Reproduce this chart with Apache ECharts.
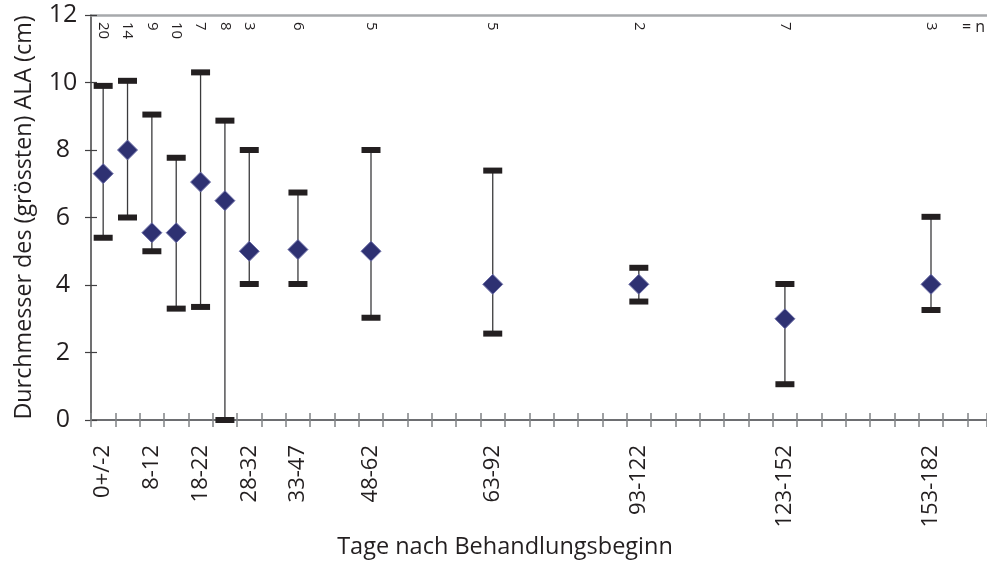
<!DOCTYPE html>
<html>
<head>
<meta charset="utf-8">
<script src="https://cdn.jsdelivr.net/npm/echarts@6/dist/echarts.min.js"></script>
<style>
html,body{margin:0;padding:0;background:#fff;}
#chart{width:987px;height:561px;}
</style>
</head>
<body>
<div id="chart"></div>
<script>
// Position of each group on the day axis (in 5-day tick units)
const xPos = [0.5, 1.5, 2.5, 3.5, 4.5, 5.5, 6.5, 8.5, 11.5, 16.5, 22.5, 28.5, 34.5];
const groupLabels = ["0+/-2", "", "8-12", "", "18-22", "", "28-32", "33-47", "48-62", "63-92", "93-122", "123-152", "153-182"];
const nValues = [20, 14, 9, 10, 7, 8, 3, 6, 5, 5, 2, 7, 3];
const meanValues = [7.3, 8.0, 5.55, 5.55, 7.05, 6.5, 5.0, 5.05, 5.0, 4.02, 4.02, 3.0, 4.02];
const lowValues = [5.4, 6.0, 5.0, 3.3, 3.35, 0, 4.03, 4.03, 3.03, 2.56, 3.51, 1.06, 3.26];
const highValues = [9.9, 10.05, 9.05, 7.77, 10.3, 8.87, 8.0, 6.74, 8.0, 7.39, 4.51, 4.03, 6.02];
const yTicks = [0, 2, 4, 6, 8, 10, 12];

const FONT = 'Open Sans';
const TXT = '#231f20';

function labelAt(list, v) {
  for (let i = 0; i < xPos.length; i++) {
    if (Math.abs(xPos[i] - v) < 1e-6) return String(list[i]);
  }
  return '';
}

const xMin = 0, xMax = 36.8;

const chart = echarts.init(document.getElementById('chart'), null, {renderer: 'canvas'});
const option = {
  animation: false,
  backgroundColor: '#ffffff',
  title: {
    text: '= n', left: 962, top: 19, padding: 0,
    textStyle: {fontFamily: FONT, fontSize: 16, fontWeight: 'normal', color: TXT}
  },
  grid: {left: 91, right: 0, top: 15, bottom: 141, containLabel: false, outerBoundsMode: 'none'},
  xAxis: [
    { // main axis with inward ticks
      type: 'value', position: 'bottom', min: xMin, max: xMax, interval: 1,
      axisLine: {show: true, lineStyle: {color: '#6d6e71', width: 2}},
      axisTick: {show: true, inside: true, length: 7, lineStyle: {color: '#808285', width: 1.5}},
      axisLabel: {show: false}, splitLine: {show: false}
    },
    { // outward ticks
      type: 'value', position: 'bottom', min: xMin, max: xMax, interval: 1,
      axisLine: {show: false},
      axisTick: {show: true, inside: false, length: 7, lineStyle: {color: '#808285', width: 1.5}},
      axisLabel: {show: false}, splitLine: {show: false}
    },
    { // group labels
      type: 'value', position: 'bottom', min: xMin, max: xMax, interval: 0.5,
      axisLine: {show: false}, axisTick: {show: false}, splitLine: {show: false},
      axisLabel: {
        show: true, rotate: 90, margin: 25, fontFamily: FONT, fontSize: 22, color: TXT,
        showMinLabel: true, showMaxLabel: true,
        formatter: v => labelAt(groupLabels, v)
      },
      name: 'Tage nach Behandlungsbeginn', nameLocation: 'middle', nameGap: 110,
      nameTextStyle: {fontFamily: FONT, fontSize: 23.5, color: TXT, padding: [0, 68, 0, 0]}
    },
    { // top frame line with n labels
      type: 'value', position: 'top', min: xMin, max: xMax, interval: 0.5,
      axisLine: {show: true, lineStyle: {color: '#a7a9ac', width: 2.5}},
      axisTick: {show: false}, splitLine: {show: false},
      axisLabel: {
        show: true, inside: true, rotate: 90, margin: 7, fontFamily: FONT, fontSize: 15, color: TXT,
        formatter: v => labelAt(nValues, v)
      }
    }
  ],
  yAxis: [
    {
      type: 'value', position: 'left', min: 0, max: 12, interval: 2,
      axisLine: {show: true, lineStyle: {color: '#414042', width: 1.5}},
      axisTick: {show: true, inside: false, length: 6, lineStyle: {color: '#414042', width: 1.2}},
      splitLine: {show: false},
      axisLabel: {
        fontFamily: FONT, fontSize: 25, color: TXT, align: 'center', margin: 28,
        formatter: v => (yTicks.indexOf(v) >= 0 ? String(v) : '')
      },
      name: 'Durchmesser des (grössten) ALA (cm)', nameLocation: 'middle', nameGap: 55, nameRotate: 90,
      nameTextStyle: {fontFamily: FONT, fontSize: 23.3, color: TXT}
    },
    {
      type: 'value', position: 'left', min: 0, max: 12, interval: 2,
      axisLine: {show: false},
      axisTick: {show: true, inside: true, length: 6, lineStyle: {color: '#414042', width: 1.2}},
      axisLabel: {show: false}, splitLine: {show: false}
    }
  ],
  series: [
    {
      type: 'custom',
      xAxisIndex: 0, yAxisIndex: 0,
      data: xPos.map((x, i) => [x, lowValues[i], highValues[i]]),
      encode: {x: 0, y: [1, 2]},
      renderItem: function (params, api) {
        const x = api.value(0);
        const lo = api.coord([x, api.value(1)]);
        const hi = api.coord([x, api.value(2)]);
        const capW = 19, capH = 6;
        return {
          type: 'group',
          children: [
            {type: 'line', shape: {x1: lo[0], y1: lo[1], x2: hi[0], y2: hi[1]},
             style: {stroke: '#3a3a3c', lineWidth: 1.3}},
            {type: 'rect', shape: {x: hi[0] - capW / 2, y: hi[1] - capH / 2, width: capW, height: capH},
             style: {fill: '#231f20'}},
            {type: 'rect', shape: {x: lo[0] - capW / 2, y: lo[1] - capH / 2, width: capW, height: capH},
             style: {fill: '#231f20'}}
          ]
        };
      },
      z: 3
    },
    {
      type: 'scatter',
      xAxisIndex: 0, yAxisIndex: 0,
      data: xPos.map((x, i) => [x, meanValues[i]]),
      symbol: 'diamond', symbolSize: [20, 20],
      itemStyle: {color: '#2e3172', borderColor: '#6e70a8', borderWidth: 1, opacity: 1},
      z: 5
    }
  ]
};
chart.setOption(option);
</script>
</body>
</html>
